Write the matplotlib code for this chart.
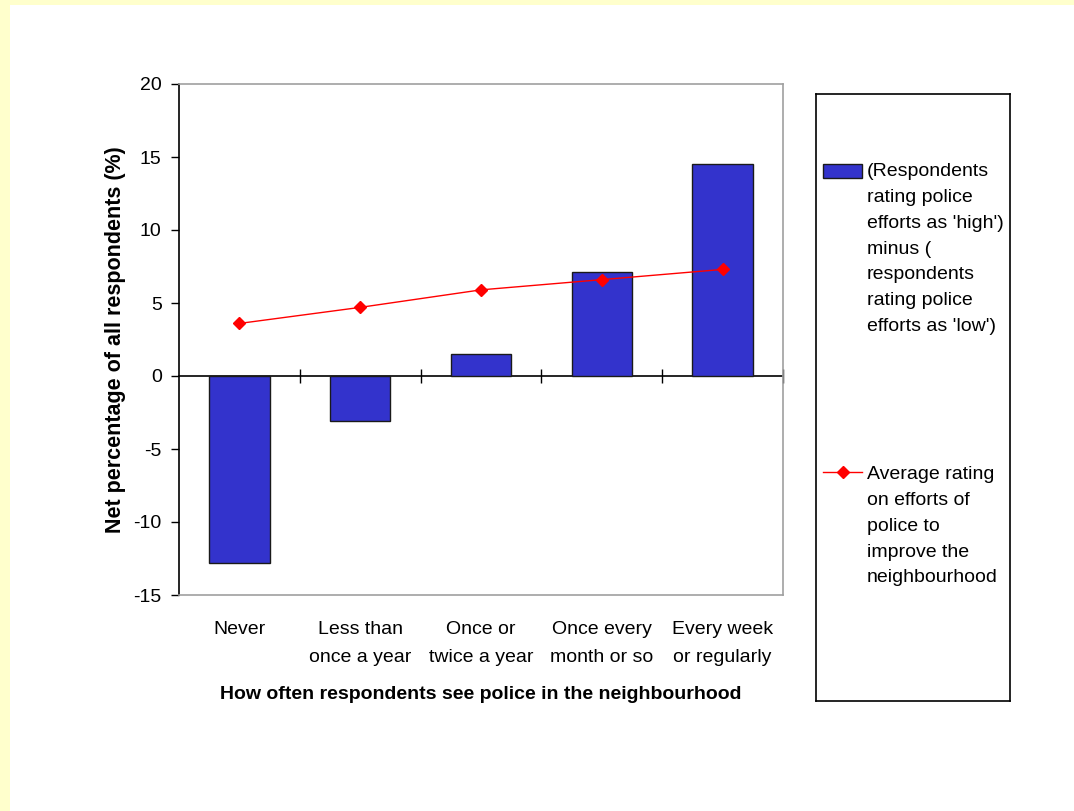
import matplotlib
matplotlib.use("Agg")
import matplotlib.pyplot as plt
from matplotlib.patches import Rectangle
from matplotlib.lines import Line2D

# Data
categories = ["Never", "Less than\nonce a year", "Once or\ntwice a year",
              "Once every\nmonth or so", "Every week\nor regularly"]
net_rating = [-12.8, -3.1, 1.5, 7.1, 14.5]
average_rating = [3.6, 4.7, 5.9, 6.6, 7.3]
y_ticks = [-15, -10, -5, 0, 5, 10, 15, 20]

bar_label = ("(Respondents\nrating police\nefforts as 'high')\nminus (\n"
             "respondents\nrating police\nefforts as 'low')")
line_label = "Average rating\non efforts of\npolice to\nimprove the\nneighbourhood"

plt.rcParams["font.family"] = ["Liberation Sans", "DejaVu Sans"]
FS = 14

W, H = 1074, 811
fig = plt.figure(figsize=(W / 100, H / 100), dpi=100, facecolor="#FFFFCC")


def fx(px):
    return px / W


def fy(py):
    return 1 - py / H


# white page inside the yellow margin
fig.patches.append(Rectangle((fx(10), 0), 1 - fx(10), fy(5), transform=fig.transFigure,
                             facecolor="white", edgecolor="none", zorder=-10))

ax = fig.add_axes([fx(179), fy(595), fx(783) - fx(179), fy(84) - fy(595)])
ax.set_facecolor("white")

x = list(range(len(categories)))
ax.bar(x, net_rating, width=0.5, color="#3333CC", edgecolor="#1a1a1a", linewidth=1.0, zorder=3)
ax.plot(x, average_rating, color="#FF0000", linewidth=1.0, marker="D", markersize=6,
        markerfacecolor="#FF0000", markeredgecolor="#FF0000", zorder=4)

ymin, ymax = y_ticks[0], y_ticks[-1]
ax.set_xlim(-0.5, len(categories) - 0.5)
ax.set_ylim(ymin, ymax)

# y axis
ax.set_yticks(y_ticks)
ax.set_yticklabels([str(v) for v in y_ticks], fontsize=FS)
ax.tick_params(axis="y", direction="out", length=6, width=1, pad=6.5, colors="black")
ax.spines["left"].set_color("black")
ax.spines["left"].set_linewidth(1.2)
for side in ("top", "right", "bottom"):
    ax.spines[side].set_color("#a0a0a0")
    ax.spines[side].set_linewidth(1.2)

# category labels along the bottom of the plot area
ax.set_xticks(x)
ax.set_xticklabels(categories, fontsize=FS, linespacing=1.84)
ax.tick_params(axis="x", length=0, pad=18.5)

# zero line with category dividers
zero_frac = (0 - ymin) / (ymax - ymin)
zax = ax.secondary_xaxis(zero_frac)
zax.set_xticks([i + 0.5 for i in x])
zax.set_xticklabels([])
zax.tick_params(direction="inout", length=10, width=1, colors="black")
zax.spines["bottom"].set_color("black")
zax.spines["bottom"].set_linewidth(1.2)

ax.set_ylabel("Net percentage of all respondents (%)", fontsize=15.5, fontweight="bold")
ax.yaxis.set_label_coords(-0.088, 0.5)
ax.set_xlabel("How often respondents see police in the neighbourhood", fontsize=FS,
              fontweight="bold")
ax.xaxis.set_label_coords(0.5, -0.178)

# legend panel
lax = fig.add_axes([fx(816), fy(701), fx(1010) - fx(816), fy(94) - fy(701)])
lax.set_xlim(816, 1010)
lax.set_ylim(701, 94)
lax.set_xticks([])
lax.set_yticks([])
for s in lax.spines.values():
    s.set_color("black")
    s.set_linewidth(1.2)

lax.add_patch(Rectangle((823, 164), 39, 14, facecolor="#3333CC", edgecolor="#1a1a1a",
                        linewidth=1.0))
lax.text(867, 163, bar_label, fontsize=FS, va="top", ha="left", linespacing=1.68)

lax.add_line(Line2D([823, 862], [472, 472], color="#FF0000", linewidth=1.0))
lax.add_line(Line2D([842.5], [472], color="#FF0000", marker="D", markersize=6))
lax.text(867, 466, line_label, fontsize=FS, va="top", ha="left", linespacing=1.68)

fig.savefig("out.png", dpi=100, facecolor=fig.get_facecolor())
